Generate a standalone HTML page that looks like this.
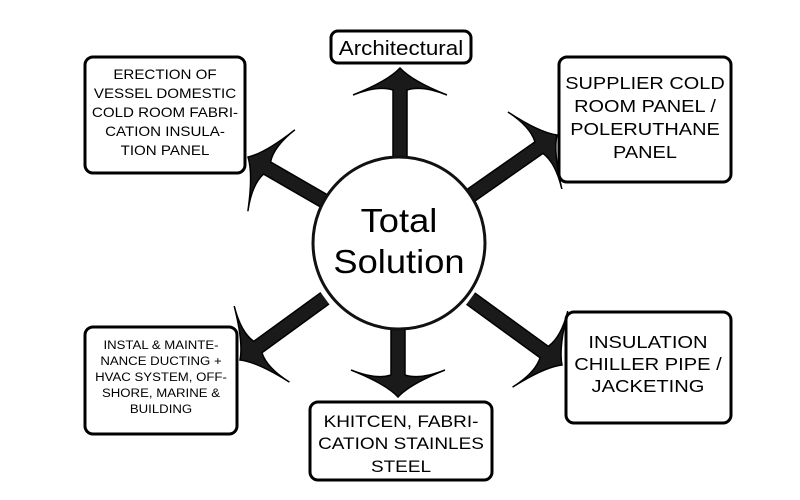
<!DOCTYPE html>
<html><head><meta charset="utf-8"><style>
html,body{margin:0;padding:0;background:#fff;}
svg{display:block;}
text{font-family:"Liberation Sans",Arial,sans-serif;fill:#000;text-anchor:middle;}
</style></head><body>
<svg width="800" height="500" viewBox="0 0 800 500" xmlns="http://www.w3.org/2000/svg">
<defs>
<path id="arr" d="M0,0 Q-12,13 -47,27 Q-22,17 -7,22 L-7,120 L7,120 L7,22 Q22,17 47,27 Q12,13 0,0 Z" fill="#1a1a1a" stroke="#000" stroke-width="1.5"/>
</defs>
<g transform="translate(400,68)"><svg x="-60" y="-5" width="120" height="94" viewBox="-60 -5 120 94" overflow="hidden"><use href="#arr"/></svg></g>
<g transform="translate(248,157) rotate(-60)"><svg x="-60" y="-5" width="120" height="92" viewBox="-60 -5 120 92" overflow="hidden"><use href="#arr"/></svg></g>
<g transform="translate(557,135) rotate(55)"><svg x="-60" y="-5" width="120" height="110" viewBox="-60 -5 120 110" overflow="hidden"><use href="#arr"/></svg></g>
<g transform="translate(240,360) rotate(-126)"><svg x="-60" y="-5" width="120" height="110" viewBox="-60 -5 120 110" overflow="hidden"><use href="#arr"/></svg></g>
<g transform="translate(398,397) rotate(180)"><svg x="-60" y="-5" width="120" height="72" viewBox="-60 -5 120 72" overflow="hidden"><use href="#arr"/></svg></g>
<g transform="translate(562,365) rotate(126)"><svg x="-60" y="-5" width="120" height="118" viewBox="-60 -5 120 118" overflow="hidden"><use href="#arr"/></svg></g>

<circle cx="399" cy="243" r="86" fill="#fff" stroke="#111" stroke-width="3"/>
<g transform="translate(399,0) scale(1.1,1) translate(-399,0)" font-size="33"><text x="399" y="232">Total</text>
<text x="399" y="273">Solution</text></g>

<rect x="331" y="31" width="140" height="32" rx="7" fill="#fff" stroke="#000" stroke-width="3"/>
<g transform="translate(401,0) scale(1.12,1) translate(-401,0)"><text x="401" y="55" font-size="20">Architectural</text></g>

<rect x="85" y="57" width="160" height="116" rx="8" fill="#fff" stroke="#000" stroke-width="3"/>
<g font-size="13.5" transform="translate(165,0) scale(1.12,1) translate(-165,0)"><text x="165" y="79">ERECTION OF</text><text x="165" y="98">VESSEL DOMESTIC</text><text x="165" y="117">COLD ROOM FABRI-</text><text x="165" y="136">CATION INSULA-</text><text x="165" y="155">TION PANEL</text></g>

<rect x="559" y="57" width="172" height="125" rx="8" fill="#fff" stroke="#000" stroke-width="3"/>
<g font-size="17.5" transform="translate(645,0) scale(1.14,1) translate(-645,0)"><text x="645" y="89">SUPPLIER COLD</text><text x="645" y="112">ROOM PANEL /</text><text x="645" y="135">POLERUTHANE</text><text x="645" y="158">PANEL</text></g>

<rect x="85" y="327" width="152" height="107" rx="8" fill="#fff" stroke="#000" stroke-width="3"/>
<g font-size="12" transform="translate(161,0) scale(1.1,1) translate(-161,0)"><text x="161" y="349">INSTAL &amp; MAINTE-</text><text x="161" y="365">NANCE DUCTING +</text><text x="161" y="381">HVAC SYSTEM, OFF-</text><text x="161" y="397">SHORE, MARINE &amp;</text><text x="161" y="413">BUILDING</text></g>

<rect x="566" y="312" width="165" height="111" rx="8" fill="#fff" stroke="#000" stroke-width="3"/>
<g font-size="17.5" transform="translate(648,0) scale(1.15,1) translate(-648,0)"><text x="648" y="348">INSULATION</text><text x="648" y="370">CHILLER PIPE /</text><text x="648" y="392">JACKETING</text></g>

<rect x="310" y="402" width="182" height="78" rx="8" fill="#fff" stroke="#000" stroke-width="3"/>
<g font-size="16.5" transform="translate(401,0) scale(1.15,1) translate(-401,0)"><text x="401" y="427">KHITCEN, FABRI-</text><text x="401" y="449">CATION STAINLES</text><text x="401" y="472">STEEL</text></g>
</svg>
</body></html>
